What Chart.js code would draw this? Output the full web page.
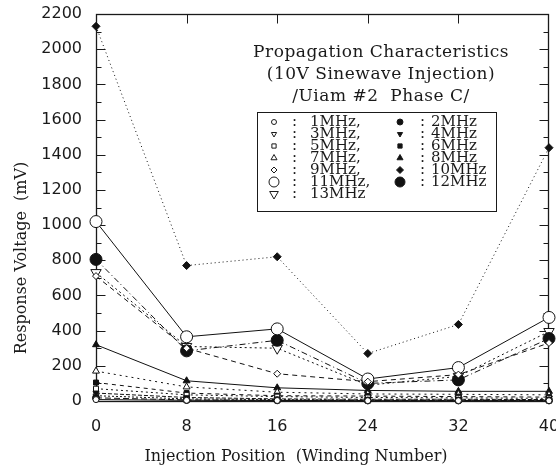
<!DOCTYPE html>
<html>
<head>
<meta charset="utf-8">
<title>Propagation Characteristics</title>
<script src="https://cdn.jsdelivr.net/npm/chart.js"></script>
<style>
  html, body { margin: 0; padding: 0; background: #fff; }
  #wrap { width: 556px; height: 470px; }
</style>
</head>
<body>
<div id="wrap"><canvas id="propChart" width="556" height="470"></canvas></div>
<script>
// injection positions (winding number)
const positions = [0, 8, 16, 24, 32, 40];
const yTicks = [0, 200, 400, 600, 800, 1000, 1200, 1400, 1600, 1800, 2000, 2200];

const freqLabels = ['1MHz', '2MHz', '3MHz', '4MHz', '5MHz', '6MHz', '7MHz',
                    '8MHz', '9MHz', '10MHz', '11MHz', '12MHz', '13MHz'];

// response voltage in mV at each position
const v1MHz  = [8, 4, 3, 2, 2, 2];
const v2MHz  = [18, 6, 4, 3, 3, 3];
const v3MHz  = [30, 12, 8, 6, 6, 5];
const v4MHz  = [45, 20, 12, 10, 10, 8];
const v5MHz  = [70, 35, 25, 20, 18, 15];
const v6MHz  = [105, 45, 30, 28, 25, 22];
const v7MHz  = [170, 80, 50, 40, 38, 35];
const v8MHz  = [320, 115, 75, 60, 55, 55];
const v9MHz  = [710, 300, 155, 110, 150, 330];
const v10MHz = [2130, 770, 820, 270, 435, 1440];
const v11MHz = [1020, 365, 410, 125, 190, 475];
const v12MHz = [805, 285, 345, 100, 120, 355];
const v13MHz = [730, 310, 300, 90, 140, 395];

const seriesValues = [v1MHz, v2MHz, v3MHz, v4MHz, v5MHz, v6MHz, v7MHz,
                      v8MHz, v9MHz, v10MHz, v11MHz, v12MHz, v13MHz];

// marker + line style per frequency
const styles = [
  { shape: 'circle',   filled: false, r: 3,   rot: 0,   dash: [] },
  { shape: 'circle',   filled: true,  r: 3.5, rot: 0,   dash: [6, 3] },
  { shape: 'triangle', filled: false, r: 3.5, rot: 180, dash: [2, 2] },
  { shape: 'triangle', filled: true,  r: 3.5, rot: 180, dash: [4, 2] },
  { shape: 'rect',     filled: false, r: 3.5, rot: 0,   dash: [2, 3] },
  { shape: 'rect',     filled: true,  r: 3.5, rot: 0,   dash: [4, 4] },
  { shape: 'triangle', filled: false, r: 4,   rot: 0,   dash: [2, 4] },
  { shape: 'triangle', filled: true,  r: 4,   rot: 0,   dash: [] },
  { shape: 'rectRot',  filled: false, r: 3.5, rot: 0,   dash: [5, 4] },
  { shape: 'rectRot',  filled: true,  r: 4,   rot: 0,   dash: [1, 3] },
  { shape: 'circle',   filled: false, r: 6,   rot: 0,   dash: [] },
  { shape: 'circle',   filled: true,  r: 6,   rot: 0,   dash: [6, 3, 1, 3] },
  { shape: 'triangle', filled: false, r: 6,   rot: 180, dash: [2, 3] }
];

const datasets = freqLabels.map((lab, i) => {
  const s = styles[i];
  return {
    label: lab,
    data: positions.map((p, k) => ({ x: p, y: seriesValues[i][k] })),
    borderColor: '#111',
    borderWidth: 1,
    borderDash: s.dash,
    backgroundColor: s.filled ? '#111' : '#fff',
    pointStyle: s.shape,
    pointRadius: s.r,
    pointRotation: s.rot,
    pointBorderColor: '#111',
    pointBorderWidth: 1,
    pointBackgroundColor: s.filled ? '#111' : '#fff',
    tension: 0,
    clip: false
  };
});

const ink = '#1a1a1a';
const serif = '"DejaVu Serif", "Liberation Serif", serif';

// frame with inward ticks on all four sides, placed from the scales
const framePlugin = {
  id: 'frame',
  beforeDatasetsDraw(chart) {
    const { ctx, scales: { x, y } } = chart;
    const L = Math.round(x.getPixelForValue(0)) + 0.5;
    const R = Math.round(x.getPixelForValue(40)) - 0.5;
    const T = Math.round(y.getPixelForValue(2200)) + 0.5;
    const B = Math.round(y.getPixelForValue(0)) + 0.5;
    ctx.save();
    ctx.strokeStyle = ink;
    ctx.lineWidth = 1.3;
    ctx.strokeRect(L, T, R - L, B - T);
    ctx.lineWidth = 1;
    ctx.beginPath();
    for (let v = 100; v < 2200; v += 100) {
      const py = Math.round(y.getPixelForValue(v)) + 0.5;
      const len = v % 200 === 0 ? 9 : 5;
      ctx.moveTo(L, py); ctx.lineTo(L + len, py);
      ctx.moveTo(R, py); ctx.lineTo(R - len, py);
    }
    positions.slice(1, -1).forEach(p => {
      const px = Math.round(x.getPixelForValue(p)) + 0.5;
      ctx.moveTo(px, T); ctx.lineTo(px, T + 9);
      ctx.moveTo(px, B); ctx.lineTo(px, B - 9);
    });
    ctx.stroke();
    ctx.restore();
  },
  afterDraw(chart) {
    const { ctx } = chart;
    ctx.save();
    ctx.fillStyle = ink;
    ctx.textAlign = 'center';
    ctx.textBaseline = 'middle';

    // axis titles
    ctx.font = '16px ' + serif;
    ctx.fillText('Injection Position  (Winding Number)', 296, 457);
    ctx.save();
    ctx.translate(22, 258);
    ctx.rotate(-Math.PI / 2);
    ctx.fillText('Response Voltage  (mV)', 0, 0);
    ctx.restore();

    // title block
    ctx.font = '17px ' + serif;
    ctx.letterSpacing = '0.5px';
    ctx.fillText('Propagation Characteristics', 381, 53);
    ctx.fillText('(10V Sinewave Injection)', 381, 75);
    ctx.fillText('/Uiam #2  Phase C/', 381, 97);

    // legend box, two columns
    ctx.strokeStyle = ink;
    ctx.lineWidth = 1;
    ctx.strokeRect(257.5, 112.5, 239, 99);
    ctx.font = '15px ' + serif;
    ctx.letterSpacing = '0px';
    chart.data.datasets.forEach((ds, i) => {
      const col = i % 2, row = Math.floor(i / 2);
      const y = 122 + row * 12;
      const sx = col === 0 ? 274 : 400;
      ctx.fillStyle = ds.pointBackgroundColor;
      ctx.strokeStyle = ink;
      Chart.helpers.drawPoint(ctx, {
        pointStyle: ds.pointStyle,
        radius: ds.pointRadius < 5 ? ds.pointRadius - 0.5 : 5,
        rotation: ds.pointRotation,
        borderWidth: 1
      }, sx, y);
      ctx.fillStyle = ink;
      ctx.textAlign = 'left';
      ctx.fillText(':', col === 0 ? 292 : 420, y);
      const txt = ds.label + (col === 0 && i < freqLabels.length - 1 ? ',' : '');
      ctx.fillText(txt, col === 0 ? 310 : 431, y);
    });
    ctx.restore();
  }
};

const tickFont = { family: '"DejaVu Sans", sans-serif', size: 16 };

new Chart(document.getElementById('propChart'), {
  type: 'line',
  data: { datasets: datasets },
  plugins: [framePlugin],
  options: {
    responsive: false,
    animation: false,
    layout: { padding: { left: 0, right: 7, top: 14, bottom: 0 }, autoPadding: false },
    plugins: { legend: { display: false }, tooltip: { enabled: false } },
    scales: {
      x: {
        type: 'linear', min: 0, max: 40,
        afterBuildTicks: s => { s.ticks = positions.map(v => ({ value: v })); },
        ticks: { padding: 16, color: ink, font: tickFont, callback: v => String(v) },
        grid: { display: false, drawTicks: false },
        border: { display: false },
        afterFit: s => { s.height = 69; s.paddingLeft = 0; s.paddingRight = 0; }
      },
      y: {
        min: 0, max: 2200,
        afterBuildTicks: s => { s.ticks = yTicks.map(v => ({ value: v })); },
        ticks: { padding: 14, color: ink, font: tickFont, callback: v => String(v) },
        grid: { display: false, drawTicks: false },
        border: { display: false },
        afterFit: s => { s.width = 96; s.paddingTop = 0; s.paddingBottom = 0; }
      }
    }
  }
});
</script>
</body>
</html>
